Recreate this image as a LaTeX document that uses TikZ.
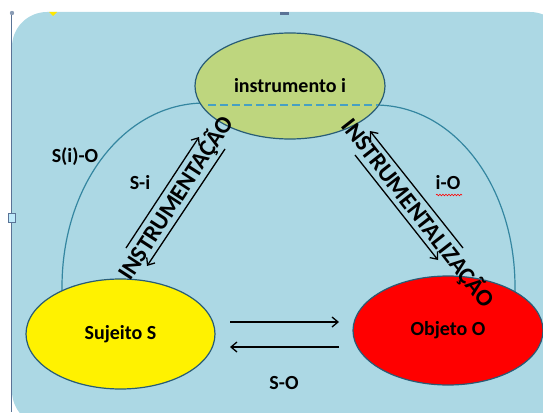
\documentclass[tikz,border=0pt]{standalone}
\usepackage{fontspec}
\setmainfont{Carlito}
\usetikzlibrary{shapes.geometric,arrows.meta,decorations.pathmorphing}
\definecolor{bgblue}{RGB}{172,216,228}
\definecolor{olivegreen}{RGB}{190,214,126}
\definecolor{rimblue}{RGB}{40,92,118}
\definecolor{arcblue}{RGB}{52,134,160}
\definecolor{dashblue}{RGB}{70,160,195}
\definecolor{handleblue}{RGB}{90,115,150}
\tikzset{
  ell/.style={ellipse, draw=rimblue, line width=1.2pt, inner sep=0pt,
    font=\fontsize{20}{24}\selectfont\bfseries},
  lbl/.style={font=\fontsize{20}{24}\selectfont\bfseries, inner sep=0pt},
  rottext/.style={font=\fontsize{24}{28}\selectfont\bfseries, inner sep=0pt},
  arcline/.style={draw=arcblue, line width=1.2pt},
  flow/.style={line width=1.3pt, -{Straight Barb[length=6pt,width=10pt]}},
}
\begin{document}
\begin{tikzpicture}[x=1pt,y=-1pt]
\useasboundingbox (0,0) rectangle (543,412);
% background panel
\fill[bgblue, rounded corners=35pt] (12,12) rectangle (565,426);
% selection handles
\draw[handleblue, line width=0.8pt] (11,14) -- (11,412);
\draw[handleblue, line width=0.8pt, fill=white!75!cyan] (8,213) rectangle (15,222);
\fill[handleblue] (280,12) rectangle (289,15);
\fill[handleblue!70] (12,13) circle (2.2);
\fill[yellow!90!orange] (49,12) -- (57,12) -- (53,16) -- cycle;
% outer arcs
\coordinate (arcLs) at (62,296);
\coordinate (arcLe) at (205,103);
\coordinate (arcRs) at (375,105);
\coordinate (arcRe) at (515,296);
\draw[arcline] (arcLs) -- (62,287) .. controls (62,185) and (124,103) .. (arcLe);
\draw[arcline] (arcRs) .. controls (455,105) and (515,187) .. (515,287) -- (arcRe);
% ellipses
\node[ell, fill=olivegreen, minimum width=190pt, minimum height=106pt] (I) at (290,86) {instrumento i};
\node[ell, fill=yellow, minimum width=189pt, minimum height=110pt] (S) at (120.5,334) {Sujeito S};
\node[ell, fill=red, minimum width=190pt, minimum height=109pt] (O) at (448,330.5) {Objeto O};
\draw[dashblue, line width=1.5pt, dash pattern=on 8pt off 4pt] (208,105) -- (378,105);
% labels
\node[lbl] (lSiO) at (75,157) {S(i)-O};
\node[lbl] (lSi) at (140,183) {S-i};
\node[lbl] (liO) at (448,183) {i-O};
\node[lbl] (lSO) at (284,383) {S-O};
\draw[red, line width=0.6pt, decorate, decoration={snake, segment length=3pt, amplitude=0.8pt}] (436,195) -- (462,195);
% diagonal arrows
\coordinate (a1s) at (126,248); \coordinate (a1e) at (199,137);
\coordinate (a2s) at (225,149); \coordinate (a2e) at (147,266);
\coordinate (b1s) at (463,248); \coordinate (b1e) at (370,131);
\coordinate (b2s) at (355,155); \coordinate (b2e) at (438,260);
\draw[flow] (a1s) -- (a1e);
\draw[flow] (a2s) -- (a2e);
\draw[flow] (b1s) -- (b1e);
\draw[flow] (b2s) -- (b2e);
% horizontal arrows
\coordinate (c1s) at (230,322); \coordinate (c1e) at (339,322);
\coordinate (c2s) at (339,347); \coordinate (c2e) at (230,347);
\draw[flow] (c1s) -- (c1e);
\draw[flow] (c2s) -- (c2e);
% rotated texts
\node[rottext, rotate=57] (tL) at (176,198) {INSTRUMENTAÇÃO};
\node[rottext, rotate=-52] (tR) at (418,213) {INSTRUMENTALIZAÇÃO};
\end{tikzpicture}
\end{document}
